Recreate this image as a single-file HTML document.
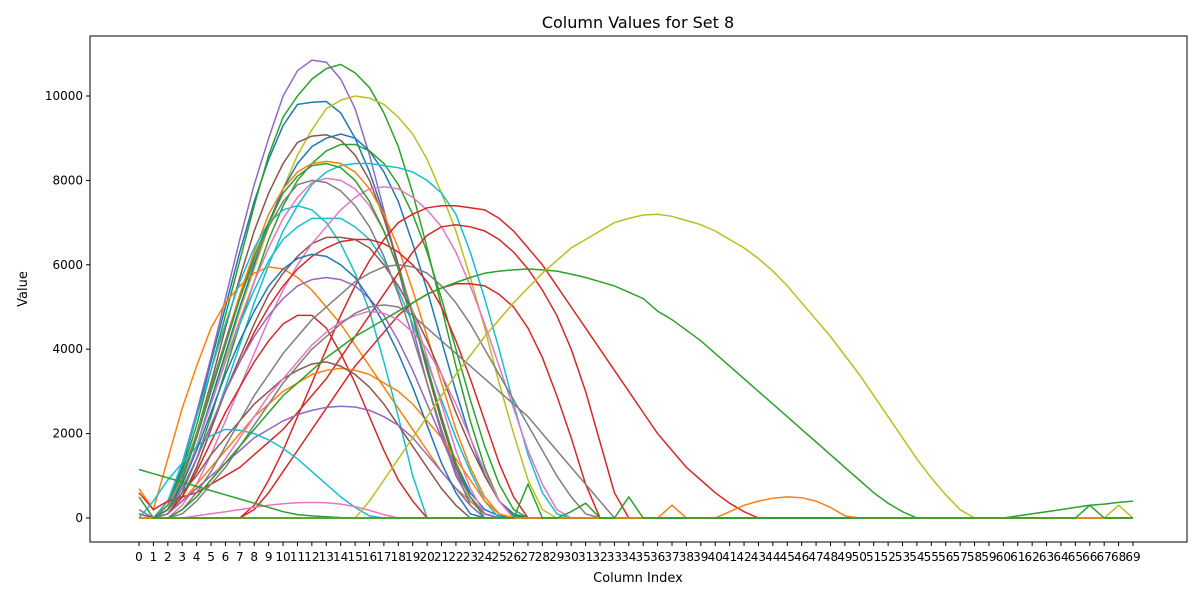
<!DOCTYPE html>
<html><head><meta charset="utf-8"><style>
body{margin:0;background:#fff;font-family:"Liberation Sans","DejaVu Sans",sans-serif}
svg text{font-family:"DejaVu Sans","Liberation Sans",sans-serif;fill:#000}
</style></head><body>
<svg id="chart" width="1200" height="600" xmlns="http://www.w3.org/2000/svg">
<rect width="1200" height="600" fill="#fff"/>
<text x="638" y="28" font-size="16" text-anchor="middle">Column Values for Set 8</text>
<text x="638" y="582" font-size="13" text-anchor="middle">Column Index</text>
<text x="27" y="289" font-size="13" text-anchor="middle" transform="rotate(-90 27 289)">Value</text>
<g id="plot"></g>
<g id="axes"></g>
<rect x="90" y="36" width="1097" height="506" fill="none" stroke="#000" stroke-width="1"/>
</svg>
<script>
const categories = Array.from({length:70},(_,i)=>i);
const yTicks = [0,2000,4000,6000,8000,10000];
const colors = ["#1f77b4","#ff7f0e","#2ca02c","#d62728","#9467bd","#8c564b","#e377c2","#7f7f7f","#bcbd22","#17becf"];
const s1=[0,0,300,1200,2400,3700,5000,6300,7500,8500,9300,9800,9850,9870,9600,9000,8200,7200,6000,4800,3500,2300,1300,600,200,50,0];
const s2=[200,0,400,1300,2500,3800,5200,6600,7900,9000,10000,10600,10850,10800,10400,9700,8600,7300,5900,4500,3200,2000,1000,400,100,0];
const s3=[0,0,300,1100,2200,3500,4800,6100,7400,8600,9500,10000,10400,10650,10750,10550,10200,9600,8800,7700,6400,5000,3600,2300,1200,400,50,0];
const s4=[0,0,200,800,1700,2700,3800,4900,5900,6900,7800,8600,9200,9700,9900,10000,9950,9800,9500,9100,8500,7700,6800,5700,4500,3200,2000,900,200,0];
const s5=[100,0,300,1000,2000,3200,4500,5700,6800,7700,8400,8900,9050,9080,8950,8600,8000,7100,6000,4800,3500,2300,1200,500,100,0];
const s6=[0,0,200,800,1700,2800,3900,5000,6000,7000,7800,8400,8800,9000,9100,9000,8700,8200,7500,6500,5400,4200,3000,1900,1000,400,100,0];
const s7=[0,0,100,600,1400,2400,3500,4600,5600,6600,7400,8000,8400,8700,8850,8850,8700,8400,7900,7200,6300,5200,4000,2800,1700,800,200,0];
const s8=[0,0,100,500,1200,2100,3100,4100,5100,6000,6800,7400,7900,8200,8350,8400,8400,8350,8300,8200,8000,7700,7200,6300,5200,4000,2700,1500,600,100,0];
const s9=[0,0,300,1000,2000,3100,4200,5300,6300,7200,7800,8200,8400,8450,8400,8200,7800,7200,6400,5400,4300,3200,2100,1200,500,100,0];
const s10=[700,200,1400,2600,3600,4500,5100,5500,5800,5950,5900,5700,5400,5000,4600,4100,3600,3100,2600,2100,1600,1100,700,400,100,0];
const s11=[0,0,400,1300,2400,3500,4600,5600,6400,7000,7300,7400,7300,7000,6500,5800,4900,3700,2400,1000,0];
const s12=[0,0,200,800,1700,2700,3700,4600,5400,6100,6600,6900,7100,7100,7100,6900,6600,6100,5400,4600,3700,2800,1900,1100,400,0];
const s13=[0,0,100,500,1200,2100,3000,3800,4600,5300,5800,6200,6500,6650,6650,6600,6400,6000,5500,4900,4200,3400,2500,1700,1000,400,0];
const s14=[0,0,200,800,1700,2700,3700,4700,5600,6400,7100,7600,7950,8050,8000,7800,7400,6800,5900,4900,3800,2700,1600,700,100,0];
const s15=[0,0,300,1000,2000,3100,4200,5200,6100,6900,7500,7900,8000,7950,7750,7400,6900,6200,5300,4300,3200,2100,1100,300,0];
const s16=[0,0,0,300,800,1500,2300,3100,3900,4700,5400,6000,6500,6900,7300,7600,7800,7850,7800,7600,7300,6900,6300,5500,4600,3600,2600,1600,800,200,0];
const s17=[0,0,0,0,0,0,0,0,300,900,1600,2400,3200,4000,4800,5500,6100,6600,7000,7200,7350,7400,7400,7350,7300,7100,6800,6400,6000,5500,5000,4500,4000,3500,3000,2500,2000,1600,1200,900,600,350,150,0];
const s18=[600,200,400,500,600,800,1000,1200,1500,1800,2100,2500,2900,3300,3800,4300,4800,5300,5800,6300,6700,6900,6950,6900,6800,6600,6300,5900,5400,4800,4000,3000,1800,600,0];
const s19=[0,0,0,0,0,0,0,0,200,600,1100,1600,2100,2600,3100,3600,4000,4400,4800,5100,5300,5450,5550,5550,5500,5300,5000,4500,3800,2900,1900,800,0];
const s20=[0,0,200,700,1400,2200,3000,3700,4400,5000,5500,5900,6200,6400,6550,6600,6600,6500,6300,6000,5600,5000,4200,3300,2300,1300,500,0];
const s21=[0,0,100,500,1100,1800,2500,3100,3700,4200,4600,4800,4800,4500,3900,3200,2400,1600,900,400,0];
const s22=[0,0,100,400,800,1200,1600,2000,2400,2700,3000,3200,3400,3500,3550,3500,3400,3200,3000,2700,2300,1900,1400,900,400,100,0];
const s23=[0,0,200,600,1000,1500,1900,2300,2700,3000,3300,3500,3650,3700,3600,3400,3100,2700,2200,1700,1200,700,300,0];
const s24=[0,0,100,400,700,1000,1300,1600,1900,2100,2300,2450,2550,2620,2650,2630,2550,2400,2200,1900,1500,1100,700,300,0];
const s25=[0,400,900,1300,1700,1950,2100,2080,2000,1850,1650,1400,1100,800,500,250,50,0];
const s26=[0,0,0,0,50,100,150,200,250,300,340,360,370,360,330,270,180,80,0];
const s27=[0,0,200,700,1400,2200,3000,3700,4300,4800,5200,5500,5650,5700,5650,5500,5200,4800,4200,3500,2700,1900,1100,500,100,0];
const s28=[0,0,200,800,1600,2500,3400,4200,4900,5500,5900,6150,6250,6200,6000,5700,5200,4600,3900,3100,2200,1300,600,100,0];
const s29=[0,0,0,200,600,1100,1700,2300,2900,3400,3900,4300,4700,5000,5300,5600,5800,5950,6000,5950,5800,5500,5100,4600,4000,3400,2800,2200,1600,1000,500,100,0];
const s30=[0,0,0,200,500,900,1400,1900,2400,2900,3300,3700,4100,4400,4650,4800,4900,4850,4700,4400,4000,3400,2700,1900,1100,400,0];
const s31=[0,0,0,100,400,800,1200,1700,2200,2700,3200,3600,4000,4300,4600,4850,5000,5050,5000,4800,4500,4200,3900,3600,3300,3000,2700,2400,2000,1600,1200,800,400,0];
const s32=[0,0,200,900,1900,3000,4100,5200,6200,7000,7700,8100,8350,8400,8300,8000,7500,6800,5900,4800,3600,2400,1300,500,0];
const s33=[1150,1050,950,850,750,650,550,450,350,250,150,80,50,30,10,0];
const s34=[0,0,0,200,500,900,1300,1700,2100,2500,2900,3200,3500,3800,4050,4300,4500,4700,4900,5100,5300,5450,5580,5700,5800,5850,5880,5900,5880,5850,5780,5700,5600,5500,5350,5200,4900,4700,4450,4200,3900,3600,3300,3000,2700,2400,2100,1800,1500,1200,900,600,350,150,0,0,0,0,0,0,0,50,100,150,200,250,300,330,370,400];
const s35=[0,0,0,0,0,0,0,0,0,0,0,0,0,0,0,0,400,900,1400,1900,2400,2900,3400,3850,4300,4700,5100,5450,5800,6100,6400,6600,6800,7000,7100,7180,7200,7150,7050,6950,6800,6600,6400,6150,5850,5500,5100,4700,4300,3850,3400,2900,2400,1900,1400,950,550,200,0,0,0,0,0,0,0,0,0,0,300,0];
const s36=[0,0,0,0,0,0,0,0,0,0,0,0,0,0,0,0,0,0,0,0,0,0,0,0,0,0,0,0,0,0,0,0,0,0,0,0,0,300,0,0,0,150,300,400,470,500,480,400,250,50,0];
const s37=[500,0,0,0,0,0,0,0,0,0,0,0,0,0,0,0,0,0,0,0,0,0,0,0,0,0,0,800,0,0,150,350,0,0,500,0,0,0,0,0,0,0,0,0,0,0,0,0,0,0,0,0,0,0,0,0,0,0,0,0,0,0,0,0,0,0,300,0,0,0];
const seriesValues=[s1,s2,s3,s4,s5,s6,s7,s8,s9,s10,s11,s12,s13,s14,s15,s16,s17,s18,s19,s20,s21,s22,s23,s24,s25,s26,s27,s28,s29,s30,s31,s32,s33,s34,s35,s36,s37];
const seriesColors=[0,4,2,8,5,0,2,9,1,1,9,9,5,6,7,6,3,3,3,3,3,1,5,4,9,6,4,0,7,6,7,2,2,2,8,1,2];

const NS="http://www.w3.org/2000/svg";
const x0=139,x1=1133,yb=518,yt=96;
const xScale=i=>x0+(i-categories[0])*(x1-x0)/(categories.length-1);
const yScale=v=>yb-v*(yb-yt)/10000;
const plot=document.getElementById('plot'),axes=document.getElementById('axes');
seriesValues.forEach((vals,k)=>{
  const pts=categories.map(i=>xScale(i).toFixed(1)+','+yScale(i<vals.length?vals[i]:0).toFixed(1)).join(' ');
  const pl=document.createElementNS(NS,'polyline');
  pl.setAttribute('points',pts);
  pl.setAttribute('fill','none');
  pl.setAttribute('stroke',colors[seriesColors[k]]);
  pl.setAttribute('stroke-width','1.5');
  
  
  plot.appendChild(pl);
});
categories.forEach(i=>{
  const x=xScale(i);
  const t=document.createElementNS(NS,'line');
  t.setAttribute('x1',x);t.setAttribute('x2',x);t.setAttribute('y1',542);t.setAttribute('y2',546);t.setAttribute('stroke','#000');
  
  
  axes.appendChild(t);
  const l=document.createElementNS(NS,'text');
  l.setAttribute('x',x);l.setAttribute('y',561);l.setAttribute('font-size','12');l.setAttribute('text-anchor','middle');
  l.textContent=i;
  
  
  axes.appendChild(l);
});
yTicks.forEach(v=>{
  const y=yScale(v);
  const t=document.createElementNS(NS,'line');
  t.setAttribute('x1',86);t.setAttribute('x2',90);t.setAttribute('y1',y);t.setAttribute('y2',y);t.setAttribute('stroke','#000');
  
  
  axes.appendChild(t);
  const l=document.createElementNS(NS,'text');
  l.setAttribute('x',83);l.setAttribute('y',y+4);l.setAttribute('font-size','12');l.setAttribute('text-anchor','end');
  l.textContent=v;
  
  
  axes.appendChild(l);
});
</script>
</body></html>
